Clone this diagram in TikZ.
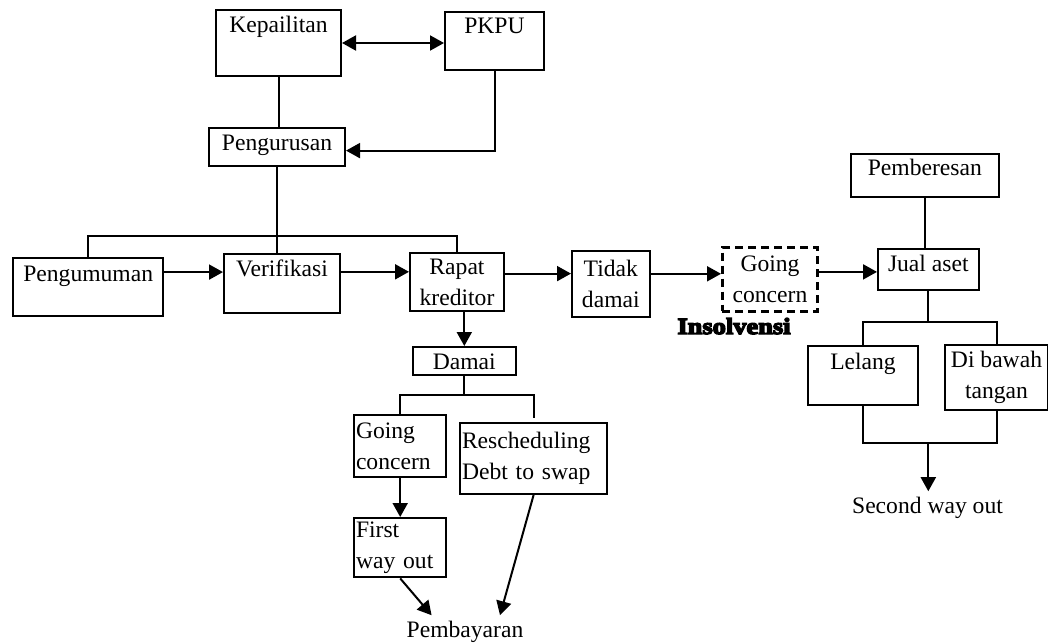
\documentclass[tikz,border=0pt]{standalone}
\usepackage{fontspec}
\setmainfont{Liberation Serif}
\newfontfamily\heavyfont[FakeBold=6,FakeStretch=1.15]{Liberation Serif Bold}
\usetikzlibrary{arrows.meta,calc}

\tikzset{
  ln/.style={line width=1pt},
  box/.style={draw,ln,anchor=north west,inner xsep=0pt,inner ysep=0pt,font=\fontsize{11.8}{15.5}\selectfont},
  lbox/.style={box,inner xsep=1pt,align=left},
  txt/.style={inner sep=2.5pt,font=\fontsize{11.8}{15.5}\selectfont},
  arr/.style={ln,-{Triangle[length=7pt,width=7.5pt]}},
  dbl/.style={ln,{Triangle[length=7pt,width=7.5pt]}-{Triangle[length=7pt,width=7.5pt]}},
}

\begin{document}
\begin{tikzpicture}[x=.5pt,y=-.5pt]
  \useasboundingbox (0,0) rectangle (1048,642);
  % atas
  \node[box,minimum width=62.5pt,text height=11.5pt,text depth=21.5pt] (kep) at (215,9) {Kepailitan};
  \node[box,minimum width=49.5pt,text height=10.8pt,text depth=18.2pt] (pkpu) at (444,11) {PKPU};
  \node[box,minimum width=68pt,text height=11.3pt,text depth=7.5pt] (peng) at (208,127) {Pengurusan};
  % baris tengah
  \node[box,minimum width=75.2pt,text height=11.65pt,text depth=17.5pt] (umum) at (12,257) {Pengumuman};
  \node[box,minimum width=58pt,text height=11pt,text depth=18.35pt] (verif) at (223,253) {Verifikasi};
  \node[box,minimum width=47pt,minimum height=29pt,align=center] (rapat) at (409,252) {Rapat\\kreditor};
  \node[box,minimum width=38.8pt,minimum height=33pt,align=center] (tidak) at (571,250) {Tidak\\damai};
  \node[box,dashed,line width=1.3pt,dash pattern=on 4pt off 2.5pt,minimum width=47.7pt,minimum height=32pt,align=center] (going) at (721,246) {Going\\concern};
  \node[anchor=base,font=\heavyfont\fontsize{11.5}{13}\selectfont] (insol) at (734,334) {Insolvensi};
  % kanan
  \node[box,minimum width=73.8pt,text height=10.85pt,text depth=10.5pt] (beres) at (850,153) {Pemberesan};
  \node[box,minimum width=50.3pt,text height=11.15pt,text depth=9.15pt] (jual) at (877,248) {Jual aset};
  \node[box,minimum width=55pt,text height=11.65pt,text depth=17.85pt] (lelang) at (807,345) {Lelang};
  \node[box,minimum width=51.5pt,minimum height=32.3pt,align=center] (bawah) at (944,344) {Di bawah\\tangan};
  \node[txt,anchor=base] (second) at (927.5,513) {Second way out};
  % bawah
  \node[box,minimum width=51.3pt,text height=11.15pt,text depth=3pt] (damai) at (412,346) {Damai};
  \node[lbox,text width=44.2pt,minimum height=31pt] (gc) at (353,414) {Going\\concern};
  \node[lbox,text width=71.7pt,minimum height=35.3pt] (resch) at (459,422) {Rescheduling\\Debt to swap};
  \node[lbox,text width=44.2pt,minimum height=29.7pt] (first) at (353,517) {First\\way out};
  \node[txt,anchor=base] (bayar) at (465,637) {Pembayaran};

  % garis
  \draw[dbl] (kep.east) -- (kep.east -| pkpu.west);
  \draw[ln] (kep.south) -- (kep.south |- peng.north);
  \draw[arr] (pkpu.south) |- ([yshift=-1.9pt]peng.east);
  \coordinate (bus1) at ($(peng.south)+(0,69.7)$);
  \draw[ln] (peng.south) -- (bus1);
  \draw[ln] (umum.north) |- (bus1) -| (rapat.north);
  \draw[ln] (bus1) -- (bus1 |- verif.north);
  \draw[arr] ($(umum.north east)!.25!(umum.south east)$) coordinate (p1) -- (p1 -| verif.west);
  \draw[arr] ($(verif.north east)!.31!(verif.south east)$) coordinate (p2) -- (p2 -| rapat.west);
  \draw[arr] ($(rapat.north east)!.36!(rapat.south east)$) coordinate (p3) -- (p3 -| tidak.west);
  \draw[arr] ($(tidak.north east)!.35!(tidak.south east)$) coordinate (p4) -- (p4 -| going.west);
  \draw[arr] ([yshift=-1.3pt]jual.west -| going.east) -- ([yshift=-1.3pt]jual.west);
  \draw[ln] (beres.south) -- (beres.south |- jual.north);
  \coordinate (bus2) at ($(jual.south)+(0,31)$);
  \draw[ln] (jual.south) -- (bus2);
  \draw[ln] (lelang.north) |- (bus2) -| (bawah.north);
  \coordinate (bus3) at ($(jual.south)+(0,152)$);
  \draw[ln] (lelang.south) |- (bus3) -| (bawah.south);
  \draw[arr] (bus3) -- (bus3 |- second.north);
  \draw[arr] (damai.north |- rapat.south) -- (damai.north);
  \coordinate (bus4) at ($(damai.south)+(0,19)$);
  \coordinate (stub) at ($(resch.north)+(0,-4.5)$);
  \draw[ln] (damai.south) -- (bus4);
  \draw[ln] (gc.north) |- (bus4) -| (stub);
  \draw[arr] (gc.south) -- (first.north);
  \draw[arr] (first.south) -- ([xshift=-16.7pt]bayar.north);
  \draw[arr] (resch.south) -- ([xshift=17.5pt]bayar.north);
\end{tikzpicture}
\end{document}
